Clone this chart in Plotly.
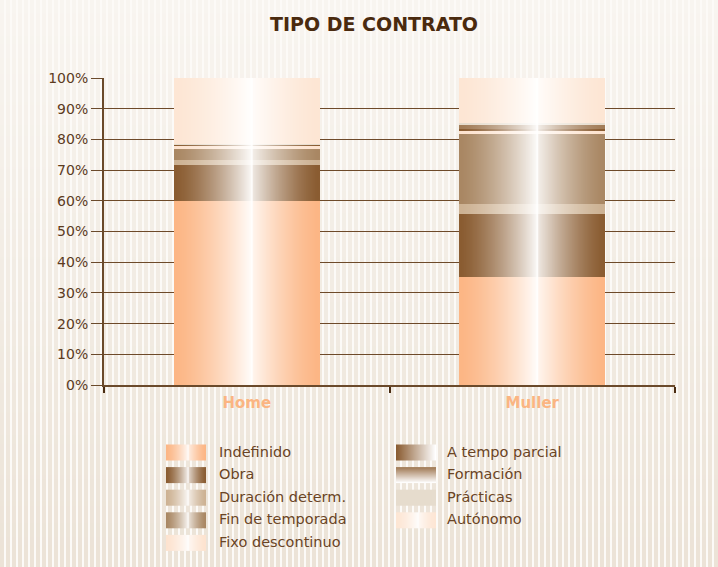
"""
Tipo de contrato: barras apiladas al 100% con degradado.
"""
import base64
import struct
import zlib

import numpy as np
import plotly.graph_objects as go

# ---- datos ----
categorias = ["Home", "Muller"]
tipos = [
    "Indefinido", "Obra", "Duración determ.", "Fin de temporada",
    "Fixo descontinuo", "A tempo parcial", "Formación", "Prácticas", "Autónomo",
]
home = [60.0, 11.7, 1.7, 3.5, 1.0, 0.3, 0.3, 0.1, 21.4]
muller = [35.3, 20.5, 3.2, 22.8, 1.0, 0.6, 1.3, 0.6, 14.7]
y_ticks = [0, 10, 20, 30, 40, 50, 60, 70, 80, 90, 100]
y_labels = [f"{v}%" for v in y_ticks]

colores = [
    "#fcb685", "#8a5c31", "#cdb293", "#a98763", "#fde3cf",
    "#8a5c31", "#a27c57", "#e6dccd", "#fde6d4",
]

W, H = 718, 567
L, R, T, B = 104, 43, 78, 182
PW, PH = W - L - R, H - T - B
BAR_W = 0.51
MARRON = "#6a4424"


def png_uri(arr):
    arr = np.ascontiguousarray(arr.astype(np.uint8))
    h, w, c = arr.shape
    raw = b"".join(b"\x00" + arr[y].tobytes() for y in range(h))

    def chunk(tag, data):
        return (struct.pack(">I", len(data)) + tag + data
                + struct.pack(">I", zlib.crc32(tag + data) & 0xFFFFFFFF))

    ctype = 6 if c == 4 else 2
    png = (b"\x89PNG\r\n\x1a\n"
           + chunk(b"IHDR", struct.pack(">IIBBBBB", w, h, 8, ctype, 0, 0, 0))
           + chunk(b"IDAT", zlib.compress(raw, 9))
           + chunk(b"IEND", b""))
    return "data:image/png;base64," + base64.b64encode(png).decode()


def hex_rgb(h):
    h = h.lstrip("#")
    return np.array([int(h[i:i + 2], 16) for i in (0, 2, 4)], dtype=float)


def perfil_brillo(n, t0=0.54):
    t = (np.arange(n) + 0.5) / n
    a = np.where(t < t0, (t / t0) ** 1.4, 0.88 * ((1 - t) / (1 - t0)) ** 1.4)
    k = int(t0 * n)
    a[k - 1:k + 1] = 1.0
    return np.clip(a, 0, 1)


# fondo a rayas verticales
xs = np.arange(W)
ys = np.arange(H)
raya = ((xs % 6) < 4).astype(float)[None, :]
fade = (0.2 + 0.8 * (ys / H))[:, None]
mix = raya * fade
beige = hex_rgb("#ece3d7")
blanco = hex_rgb("#fcfaf7")
fondo = blanco[None, None, :] * (1 - mix[..., None]) + beige[None, None, :] * mix[..., None]

# brillo blanco sobre las barras
bw_px = 146
alpha = perfil_brillo(bw_px)
brillo = np.zeros((1, bw_px, 4))
brillo[..., :3] = 255
brillo[0, :, 3] = alpha * 250

fig = go.Figure()
for i, tipo in enumerate(tipos):
    fig.add_trace(go.Bar(
        x=categorias,
        y=[home[i], muller[i]],
        name=tipo,
        width=BAR_W,
        marker=dict(color=colores[i], line=dict(width=0)),
        showlegend=False,
        hovertemplate="%{x} · " + tipo + ": %{y:.1f}%<extra></extra>",
    ))

images = [dict(
    source=png_uri(fondo), xref="paper", yref="paper",
    x=-L / PW, y=1 + T / PH, sizex=W / PW, sizey=H / PH,
    xanchor="left", yanchor="top", sizing="stretch", layer="below",
)]
for j in range(len(categorias)):
    images.append(dict(
        source=png_uri(brillo), xref="paper", yref="paper",
        x=(j + 0.5 - BAR_W / 2) / len(categorias), y=1,
        sizex=BAR_W / len(categorias), sizey=1,
        xanchor="left", yanchor="top", sizing="stretch", layer="above",
    ))


# leyenda propia en dos columnas
def muestra(color, estilo):
    c = hex_rgb(color)
    sw, sh = 40, 16
    if estilo == "h":
        a = np.tile(np.linspace(0, 1, sw), (sh, 1))
    elif estilo == "v":
        a = np.tile(np.linspace(0, 1, sh)[:, None], (1, sw))
    elif estilo == "plano":
        a = np.zeros((sh, sw))
    else:
        a = np.tile(perfil_brillo(sw, 0.55) * 0.9, (sh, 1))
    return c[None, None, :] * (1 - a[..., None]) + 255 * a[..., None]


estilos = ["s", "s", "s", "s", "s", "h", "v", "plano", "s"]
annotations = []
for i, tipo in enumerate(tipos):
    col, fila = (0, i) if i < 5 else (1, i - 5)
    sx = [166, 396][col]
    tx = [217, 445][col]
    cy = 452.5 + fila * 22.6
    images.append(dict(
        source=png_uri(muestra(colores[i], estilos[i])), xref="paper", yref="paper",
        x=(sx - L) / PW, y=(H - B - (cy - 8)) / PH, sizex=40 / PW, sizey=16 / PH,
        xanchor="left", yanchor="top", sizing="stretch", layer="above",
    ))
    annotations.append(dict(
        text=tipo, xref="paper", yref="paper",
        x=(tx - L) / PW, y=(H - B - cy + 1) / PH,
        xanchor="left", yanchor="middle", showarrow=False,
        font=dict(family="DejaVu Sans", size=14.5, color=MARRON),
    ))

fig.update_layout(
    width=W, height=H,
    margin=dict(l=L, r=R, t=T, b=B, pad=0),
    barmode="stack",
    paper_bgcolor="white",
    plot_bgcolor="rgba(0,0,0,0)",
    images=images,
    annotations=annotations,
    title=dict(
        text="<b>TIPO DE CONTRATO</b>",
        x=374 / W, y=1 - 24 / H, xanchor="center", yanchor="middle",
        font=dict(family="DejaVu Sans", size=19, color="#4a2a0e"),
    ),
    xaxis=dict(
        type="category",
        range=[-0.5, len(categorias) - 0.5],
        tickson="boundaries",
        ticks="outside", ticklen=6, tickwidth=2, tickcolor="#4a2c12",
        showline=True, linecolor="#6b4a2b", linewidth=2,
        showgrid=False, layer="below traces",
        ticklabelstandoff=3,
        tickfont=dict(family="DejaVu Sans", size=15, color="#fbb582", weight="bold"),
    ),
    yaxis=dict(
        range=[0, 100],
        tickvals=y_ticks, ticktext=y_labels,
        ticks="outside", ticklen=11, tickwidth=1, tickcolor="#6b4a2b",
        showline=True, linecolor="#6b4a2b", linewidth=2,
        showgrid=True, gridcolor="#6e4a29", gridwidth=1,
        zeroline=False, layer="below traces",
        tickfont=dict(family="DejaVu Sans", size=14, color="#5c3b1e"),
    ),
)

fig.write_html(
    "out.html",
    config={"displayModeBar": False},
    post_script="document.body.style.margin='0';",
)
